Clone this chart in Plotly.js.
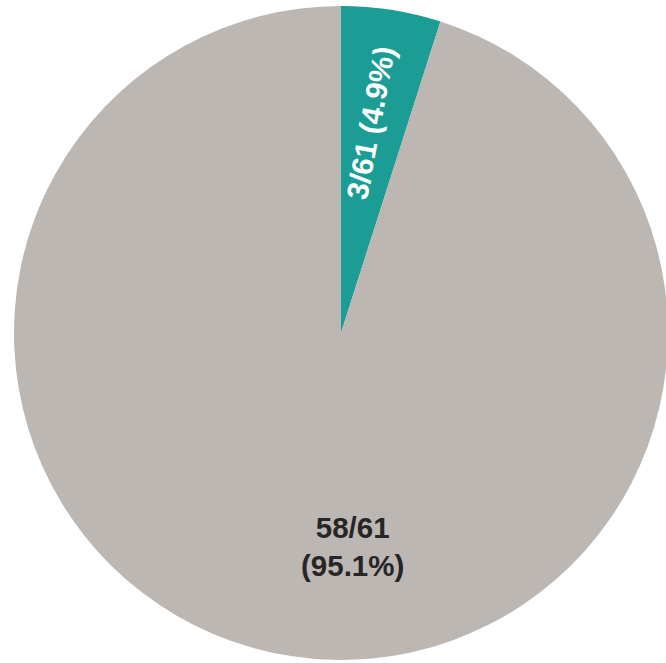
<!DOCTYPE html>
<html>
<head>
<meta charset="utf-8">
<script src="https://cdn.plot.ly/plotly-3.0.1.min.js"></script>
<style>
html,body{margin:0;padding:0;overflow:hidden;background:#fff;width:666px;height:663px;}
#chart{width:682px;height:663px;}
</style>
</head>
<body>
<div id="chart"></div>
<script>
const categories = ["Yes", "No"];
const counts = [3, 58];
const total = 61;
const percentLabels = ["4.9%", "95.1%"];
const sliceColors = ["#1b9c94", "#bdb7b4"];
const textColors = ["#ffffff", "#262626"];

const labelTexts = [
  `${counts[0]}/${total} (${percentLabels[0]})`,
  `${counts[1]}/${total}<br>(${percentLabels[1]})`
];

// label placement (fraction of radius) and offsets
const labelRadius = [0.648, 0.655];
const posAngleOffsets = [-0.95, -12.05];
const textAngleOffsets = [1.75, null];
const fontSizes = [30, 29.5];

// mid angle (clockwise from 12 o'clock) of each slice, from the data
let cum = 0;
const midAngles = counts.map(c => { const a = (cum + c / 2) / total * 360; cum += c; return a; });

const annotations = counts.map((c, i) => {
  const a = (midAngles[i] + posAngleOffsets[i]) * Math.PI / 180;
  const r = labelRadius[i] * 0.5;
  return {
    xref: "paper", yref: "paper",
    x: 0.5 + r * Math.sin(a),
    y: 0.5 + r * Math.cos(a),
    text: labelTexts[i],
    showarrow: false,
    xanchor: "center", yanchor: "middle",
    textangle: textAngleOffsets[i] === null ? 0 : -(90 - (midAngles[i] + textAngleOffsets[i])),
    font: {family: "Liberation Sans, Arial, sans-serif", size: fontSizes[i], weight: "bold", color: textColors[i]}
  };
});

const trace = {
  type: "pie",
  labels: categories,
  values: counts,
  textinfo: "none",
  hoverinfo: "none",
  sort: false,
  direction: "clockwise",
  rotation: 0,
  marker: {colors: sliceColors, line: {width: 0}},
  showlegend: false
};

Plotly.newPlot("chart", [trace], {
  width: 682, height: 663,
  margin: {l: 14, r: 14, t: 6, b: 3},
  paper_bgcolor: "#ffffff",
  showlegend: false,
  annotations: annotations
}, {staticPlot: true});
</script>
</body>
</html>
